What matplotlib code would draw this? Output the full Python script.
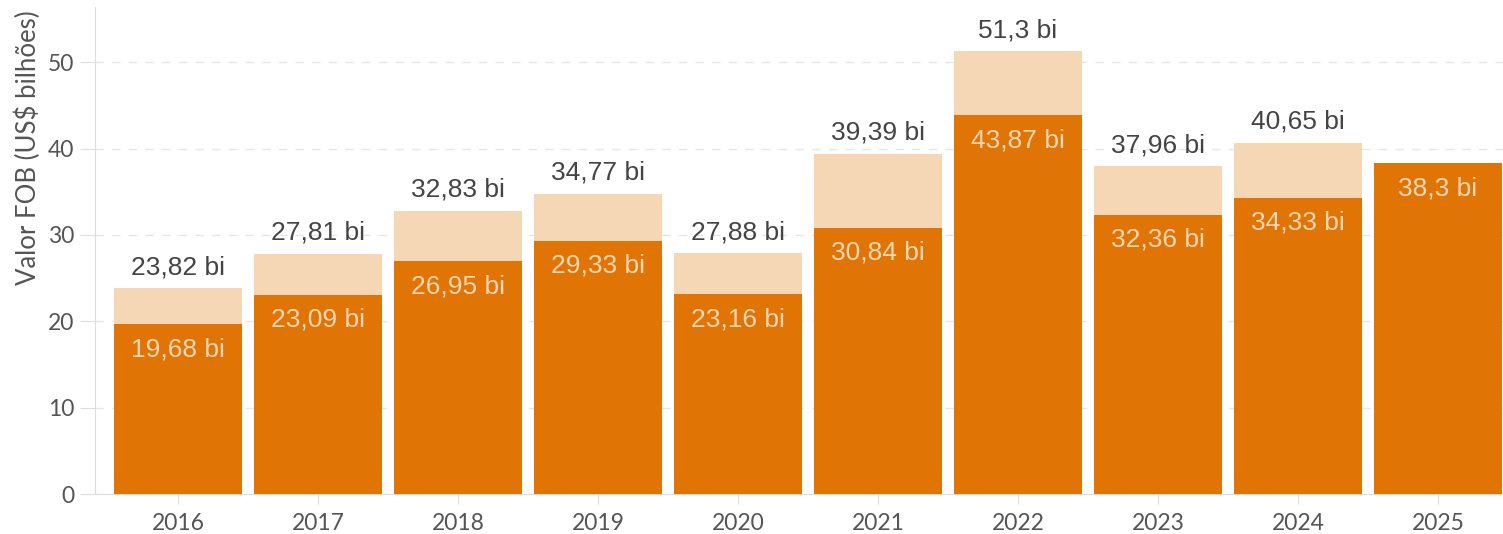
import matplotlib.pyplot as plt
from matplotlib import transforms

plt.rcParams['font.family'] = ['Lato', 'DejaVu Sans']

years = ['2016', '2017', '2018', '2019', '2020', '2021', '2022', '2023', '2024', '2025']
total = [23.82, 27.81, 32.83, 34.77, 27.88, 39.39, 51.3, 37.96, 40.65, None]
partial = [19.68, 23.09, 26.95, 29.33, 23.16, 30.84, 43.87, 32.36, 34.33, 38.3]

dark = '#e07506'
light = '#f5d6b5'

def fmt(v):
    s = f"{v:.2f}".rstrip('0').rstrip('.')
    return s.replace('.', ',') + ' bi'

fig = plt.figure(figsize=(15.03, 5.34), dpi=100)
ax = fig.add_axes([0.0632, 0.0749, 0.9368, 0.912])

x = list(range(len(years)))
w = 0.914
for i in x:
    if total[i] is not None:
        ax.bar(i, total[i], width=w, color=light, zorder=2)
    ax.bar(i, partial[i], width=w, color=dark, zorder=3)

off_up = transforms.offset_copy(ax.transData, fig=fig, x=0, y=21, units='dots')
off_dn = transforms.offset_copy(ax.transData, fig=fig, x=0, y=-25, units='dots')
for i in x:
    if total[i] is not None:
        ax.text(i, total[i], fmt(total[i]), transform=off_up, ha='center', va='center',
                fontsize=19, color='#444444', family='Liberation Sans', zorder=4)
    ax.text(i, partial[i], fmt(partial[i]), transform=off_dn, ha='center', va='center',
            fontsize=19, color=light, family='Liberation Sans', zorder=4)

ax.set_xlim(-0.593, 9.464)
ax.set_ylim(0, 56.4)
ax.set_xticks(x)
ax.set_xticklabels(years)
ax.set_yticks([0, 10, 20, 30, 40, 50])
ax.tick_params(axis='both', colors='#dddddd', labelcolor='#555555', labelsize=16.5)
ax.tick_params(axis='y', length=11, pad=4)
ax.tick_params(axis='x', length=7, pad=7)
ax.yaxis.grid(True, linestyle=(0, (6, 6)), color='#e6e6e6', linewidth=1, zorder=0)
ax.set_axisbelow(True)
for s in ['top', 'right']:
    ax.spines[s].set_visible(False)
for s in ['left', 'bottom']:
    ax.spines[s].set_color('#dddddd')
ax.set_ylabel('Valor FOB (US$ bilhões)', fontsize=18.5, color='#555555')
ax.yaxis.set_label_coords(-0.038, 0.712)

fig.savefig('out.png', dpi=100)
